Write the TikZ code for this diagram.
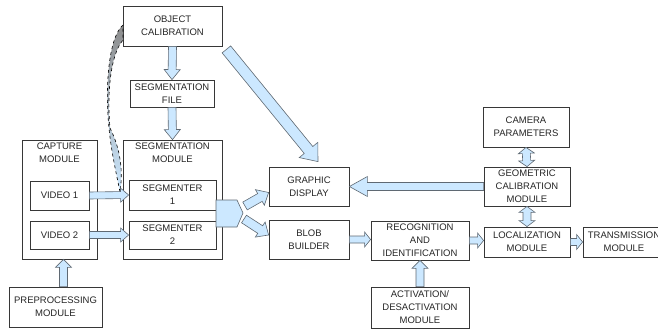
\documentclass[tikz,border=0pt]{standalone}
\usepackage{fontspec}
\setmainfont{Liberation Sans}
\usetikzlibrary{calc}

\definecolor{arrowblue}{RGB}{204,232,255}
\definecolor{arrowline}{RGB}{95,105,115}
\definecolor{boxline}{RGB}{55,55,55}

\tikzset{
  module/.style = {draw = boxline, line width = .8pt, fill = white, align = center,
                   inner sep = 1pt, text = black!85, font = \fontsize{9.5}{13}\selectfont},
  modtitle/.style = {align = center, inner sep = 1pt, anchor = north, text = black!85,
                     font = \fontsize{9.5}{13}\selectfont},
  blockarrow/.style = {fill = arrowblue, draw = arrowline, line width = .6pt, line join = miter},
}

% #1 shaft half width, #2 head half width, #3 head length, #4 from, #5 to
\newcommand{\blockarrow}[5]{%
  \coordinate (ba-c) at ($(#5)!#3!(#4)$);
  \draw [blockarrow] ($(#4)!#1!90:(#5)$) -- ($(ba-c)!#1!90:(#5)$) -- ($(ba-c)!#2!90:(#5)$)
    -- (#5) -- ($(ba-c)!#2!-90:(#5)$) -- ($(ba-c)!#1!-90:(#5)$) -- ($(#4)!#1!-90:(#5)$) -- cycle;}
% same, with a head at both ends
\newcommand{\dblockarrow}[5]{%
  \coordinate (ba-a) at ($(#4)!#3!(#5)$);
  \coordinate (ba-b) at ($(#5)!#3!(#4)$);
  \draw [blockarrow] (#4) -- ($(ba-a)!#2!90:(#5)$) -- ($(ba-a)!#1!90:(#5)$) -- ($(ba-b)!#1!90:(#5)$)
    -- ($(ba-b)!#2!90:(#5)$) -- (#5) -- ($(ba-b)!#2!-90:(#5)$) -- ($(ba-b)!#1!-90:(#5)$)
    -- ($(ba-a)!#1!-90:(#5)$) -- ($(ba-a)!#2!-90:(#5)$) -- cycle;}

\begin{document}
\begin{tikzpicture}[x = 1pt, y = -1pt]
    \useasboundingbox (0, 0) rectangle (658, 329);

    % left column
    \node [module, minimum width = 75, minimum height = 119] (capture) at (59.5, 199.5) {};
    \node [modtitle] (capturetitle) at ($(capture.north) + (0, 2)$) {CAPTURE\\MODULE};
    \node [module, minimum width = 59, minimum height = 29] (video1) at (59.5, 195.5) {VIDEO 1};
    \node [module, minimum width = 59, minimum height = 28] (video2) at (59.5, 235) {VIDEO 2};
    \node [module, minimum width = 93, minimum height = 40] (preproc) at (55.5, 307) {PREPROCESSING\\MODULE};

    % segmentation column
    \node [module, minimum width = 99, minimum height = 40] (objcal) at (172.5, 26) {OBJECT\\CALIBRATION};
    \node [module, minimum width = 84, minimum height = 27] (segfile) at (172, 93.5) {SEGMENTATION\\FILE};
    \node [module, minimum width = 99, minimum height = 119] (segmod) at (172.5, 199.5) {};
    \node [modtitle] (segmodtitle) at ($(segmod.north) + (0, 2)$) {SEGMENTATION\\MODULE};
    \node [module, minimum width = 87, minimum height = 30] (seg1) at (172.5, 195) {SEGMENTER\\1};
    \node [module, minimum width = 87, minimum height = 28] (seg2) at (172.5, 235) {SEGMENTER\\2};

    %%%%%%%%%%%%%%%%%%%%
    \node [module, minimum width = 80, minimum height = 39] (graphic) at (309, 186.5) {GRAPHIC\\DISPLAY};
    \node [module, minimum width = 80, minimum height = 39] (blob) at (309, 239.5) {BLOB\\BUILDER};
    \node [module, minimum width = 98, minimum height = 39] (recog) at (420, 240.5) {RECOGNITION\\AND\\IDENTIFICATION};
    \node [module, minimum width = 98, minimum height = 41] (activ) at (420, 307.5) {ACTIVATION/\\DESACTIVATION\\MODULE};
    \node [module, minimum width = 86, minimum height = 40] (camera) at (526, 127) {CAMERA\\PARAMETERS};
    \node [module, minimum width = 86, minimum height = 39] (geocal) at (527, 186.5) {GEOMETRIC\\CALIBRATION\\MODULE};
    \node [module, minimum width = 86, minimum height = 30] (local) at (527, 242) {LOCALIZATION\\MODULE};
    \node [module, minimum width = 82, minimum height = 30] (trans) at (624, 242) {TRANSMISSION\\MODULE};

    % curved arrow, twisted ribbon
    \shade [top color = gray!90, middle color = gray!50, bottom color = arrowblue, draw = black, dashed, line width = .6pt]
        (123, 25) .. controls (108, 38) and (105, 90) .. (109, 128)
        .. controls (111, 150) and (116, 172) .. (120, 192)
        .. controls (123, 172) and (121, 150) .. (110, 128)
        .. controls (107, 95) and (110, 55) .. (123, 40) -- cycle;

    \blockarrow{4pt}{8pt}{10pt}{objcal.south}{segfile.north}
    \blockarrow{4pt}{8pt}{10pt}{segfile.south}{segmod.north}
    \coordinate (diagtail) at ($(objcal.south east) + (4, 3)$);
    \coordinate (diagtip) at ($(graphic.north) + (9, -5)$);
    \blockarrow{5.5pt}{12pt}{15pt}{diagtail}{diagtip}

    \blockarrow{3.5pt}{7pt}{8pt}{video1.east}{seg1.west}
    \blockarrow{3.5pt}{7pt}{8pt}{video2.east}{seg2.west}
    \coordinate (preup) at ($(capture.south) + (4, 0)$);
    \coordinate (predown) at ($(preproc.north) + (8, 0)$);
    \blockarrow{4pt}{8pt}{8pt}{predown}{preup}

    % fork towards display and blob builder
    \coordinate (fork) at (243, 213);
    \draw [blockarrow] (216, 200) -- (237, 200) -- (fork) -- (237, 227) -- (216, 227) -- cycle;
    \coordinate (forkup) at ($(fork) + (2, -7)$);
    \coordinate (forkdown) at ($(fork) + (1, 6)$);
    \coordinate (dispin) at ($(graphic.west) + (0, 6)$);
    \coordinate (blobin) at ($(blob.west) + (0, -4.5)$);
    \blockarrow{4.5pt}{9pt}{10pt}{forkup}{dispin}
    \blockarrow{4.5pt}{9pt}{10pt}{forkdown}{blobin}

    \blockarrow{4pt}{10pt}{18pt}{geocal.west}{graphic.east}
    \dblockarrow{4pt}{8pt}{6pt}{geocal.north}{camera.south}
    \dblockarrow{4pt}{8pt}{6pt}{geocal.south}{local.north}

    \blockarrow{3.5pt}{7.5pt}{6pt}{blob.east}{blob.east -| recog.west}
    \blockarrow{3.5pt}{7.5pt}{6pt}{recog.east}{recog.east -| local.west}
    \blockarrow{3.5pt}{7.5pt}{6pt}{local.east}{trans.west}
    \blockarrow{4pt}{8pt}{8pt}{activ.north}{recog.south}
\end{tikzpicture}
\end{document}
